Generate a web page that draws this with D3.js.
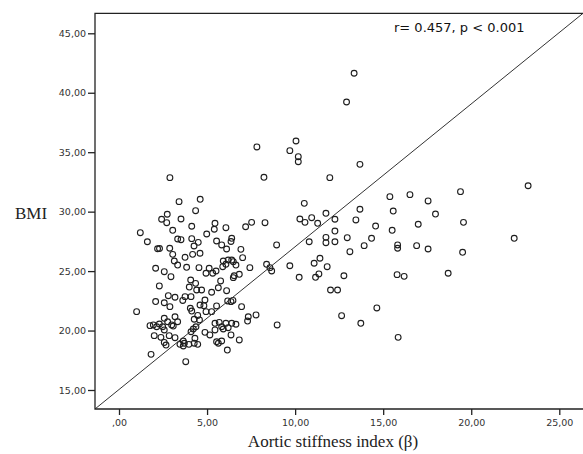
<!DOCTYPE html>
<html><head><meta charset="utf-8">
<script src="https://cdn.jsdelivr.net/npm/d3@7"></script>
<style>
html,body{margin:0;padding:0;background:#fff;}
svg{display:block;}
</style></head>
<body>
<svg id="chart" width="583" height="454"></svg>
<script>
// Aortic stiffness index (beta) values
const stiffness = [
2.89,3.41,4.61,4.35,2.74,2.42,2.71,3.52,3.05,4.13,1.21,1.61,2.19,2.30,3.33,3.52,4.13,4.50,2.88,4.26,
4.18,3.05,3.75,4.60,3.14,3.33,2.08,2.57,2.95,3.84,4.54,2.29,4.07,4.35,3.99,4.41,1.00,2.80,3.18,3.75,
4.09,2.08,2.57,3.62,2.89,4.05,4.13,4.60,4.47,4.57,4.27,1.76,1.95,2.14,2.29,2.57,3.18,2.76,2.99,3.33,
2.48,2.57,3.08,2.00,2.38,2.85,3.18,2.57,2.67,4.09,4.22,4.37,4.31,3.46,3.71,3.65,3.97,4.27,4.47,3.65,
1.82,3.79,8.23,7.53,8.29,7.19,5.45,5.41,6.07,4.98,6.40,6.36,5.54,5.83,6.11,6.92,8.95,7.02,7.83,5.92,
6.20,6.40,6.07,6.49,6.64,5.89,6.49,6.54,6.83,7.43,8.38,8.57,8.67,5.12,4.94,5.32,5.51,5.77,5.64,5.26,
6.11,4.69,6.17,6.36,6.47,4.88,4.82,4.94,5.54,5.26,6.96,7.34,7.30,7.78,8.98,5.45,5.69,6.07,6.40,6.64,
5.83,5.92,6.20,5.45,4.88,5.16,6.36,6.83,5.54,5.83,5.64,6.15,13.35,12.92,10.05,9.70,10.18,10.18,13.68,11.97,
10.52,15.38,16.52,15.57,13.68,11.75,10.27,10.56,10.94,11.28,12.26,13.45,14.57,16.99,12.26,15.51,10.80,11.75,11.75,12.26,
12.96,14.34,13.92,13.11,15.82,15.82,16.90,11.41,11.08,11.82,9.70,10.23,11.16,11.35,12.77,15.79,16.19,12.01,12.41,14.64,
12.64,13.73,15.85,23.23,19.39,17.55,17.97,19.56,22.44,17.55,19.51,18.69
];
// BMI values
const bmi = [
32.86,30.84,31.04,30.08,29.78,29.36,29.07,29.38,28.43,28.77,28.23,27.47,26.88,26.90,27.70,27.64,27.73,27.42,26.92,27.11,
26.41,26.41,26.16,26.50,25.85,25.51,25.24,24.95,24.53,25.32,25.29,23.75,24.25,23.97,23.66,23.41,21.59,22.93,22.80,22.85,
22.85,22.44,22.34,22.53,22.01,21.87,21.64,22.15,21.27,20.89,20.95,20.41,20.47,20.32,20.55,21.03,21.16,20.74,20.47,20.74,
20.32,20.05,20.38,19.57,19.43,19.57,19.40,19.00,18.78,19.90,20.13,20.32,19.35,18.84,18.93,18.70,18.84,18.93,18.84,19.12,
18.00,17.38,32.89,29.10,29.07,28.73,29.02,28.52,28.65,28.12,27.76,27.49,27.53,27.20,26.86,26.83,27.20,26.13,35.44,25.85,
25.93,25.93,25.57,25.79,25.51,25.37,24.45,24.61,24.73,25.29,25.57,25.29,25.01,25.24,24.82,24.82,25.01,24.17,23.60,23.22,
23.35,23.41,22.49,22.43,22.53,22.57,22.09,21.59,22.07,21.59,22.01,21.16,20.80,21.31,20.47,20.61,20.69,20.61,20.61,20.53,
20.32,20.13,20.24,20.05,19.85,19.63,19.63,19.21,19.06,19.12,18.93,18.36,41.64,39.22,35.94,35.13,34.62,34.20,33.98,32.86,
30.70,31.26,31.43,30.05,30.20,29.86,29.38,29.10,29.49,29.02,29.36,29.30,28.79,28.94,28.37,28.43,27.47,27.84,27.39,27.47,
27.81,27.76,27.14,26.63,27.20,26.92,27.14,26.08,25.66,25.37,25.45,24.48,24.48,24.76,24.61,24.70,24.56,23.41,23.41,21.90,
21.25,20.61,19.43,32.18,31.68,30.90,29.80,29.10,27.76,26.86,26.58,24.82
];
// Tick labels
const xTicks = [0, 5, 10, 15, 20, 25];
const xTickLabels = [",00", "5,00", "10,00", "15,00", "20,00", "25,00"];
const yTicks = [15, 20, 25, 30, 35, 40, 45];
const yTickLabels = ["15,00", "20,00", "25,00", "30,00", "35,00", "40,00", "45,00"];
// Fitted line: BMI = intercept + slope * stiffness
const fitIntercept = 15.04;
const fitSlope = 1.201;
const annotation = "r= 0.457, p < 0.001";
const xTitle = "Aortic stiffness index (\u03B2)";
const yTitle = "BMI";

const svg = d3.select("#chart");
const L = 95, R = 583, T = 13.3, B = 409;
const x = d3.scaleLinear().domain([-1.363, 26.346]).range([L, R]);
const y = d3.scaleLinear().domain([13.402, 46.682]).range([B, T]);

svg.append("defs").append("clipPath").attr("id", "clip")
  .append("rect").attr("x", L).attr("y", T).attr("width", R - L).attr("height", B - T);

// points
const pts = stiffness.map((v, i) => ({x: v, y: bmi[i]}));
svg.append("g").selectAll("circle").data(pts).join("circle")
  .attr("cx", d => x(d.x)).attr("cy", d => y(d.y)).attr("r", 2.9)
  .attr("fill", "none").attr("stroke", "#1e1e1e").attr("stroke-width", 1.1);

// fit line
const xd = x.domain();
svg.append("line").attr("clip-path", "url(#clip)")
  .attr("x1", x(xd[0])).attr("y1", y(fitIntercept + fitSlope * xd[0]))
  .attr("x2", x(xd[1])).attr("y2", y(fitIntercept + fitSlope * xd[1]))
  .attr("stroke", "#333").attr("stroke-width", 1);

// frame
svg.append("path")
  .attr("d", `M${R + 2},${T}H${L}V${B}H${R + 2}`)
  .attr("fill", "none").attr("stroke", "#222").attr("stroke-width", 1.3);

// axes
const yAxis = d3.axisLeft(y).tickValues(yTicks).tickSize(7).tickPadding(2)
  .tickFormat((d, i) => yTickLabels[i]);
const gy = svg.append("g").attr("transform", `translate(${L},0)`).call(yAxis);
gy.select(".domain").remove();
gy.selectAll("line").attr("stroke", "#222").attr("stroke-width", 1.3);
gy.selectAll("text").attr("font-family", "DejaVu Sans, sans-serif").attr("font-size", "9.5px").attr("fill", "#333");

const xAxis = d3.axisBottom(x).tickValues(xTicks).tickSize(6).tickPadding(4)
  .tickFormat((d, i) => xTickLabels[i]);
const gx = svg.append("g").attr("transform", `translate(0,${B})`).call(xAxis);
gx.select(".domain").remove();
gx.selectAll("line").attr("stroke", "#222").attr("stroke-width", 1.3);
gx.selectAll("text").attr("font-family", "DejaVu Sans, sans-serif").attr("font-size", "9.5px").attr("fill", "#333");

// titles
svg.append("text").attr("x", 15).attr("y", 219).text(yTitle)
  .attr("font-family", "Liberation Serif, serif").attr("font-size", "17px").attr("fill", "#222");
svg.append("text").attr("x", 333).attr("y", 447).attr("text-anchor", "middle").text(xTitle)
  .attr("font-family", "Liberation Serif, serif").attr("font-size", "17px").attr("fill", "#222");

// annotation
svg.append("text").attr("x", 394).attr("y", 32).text(annotation)
  .attr("font-family", "DejaVu Sans, sans-serif").attr("font-size", "13px").attr("fill", "#111");
</script>
</body></html>
